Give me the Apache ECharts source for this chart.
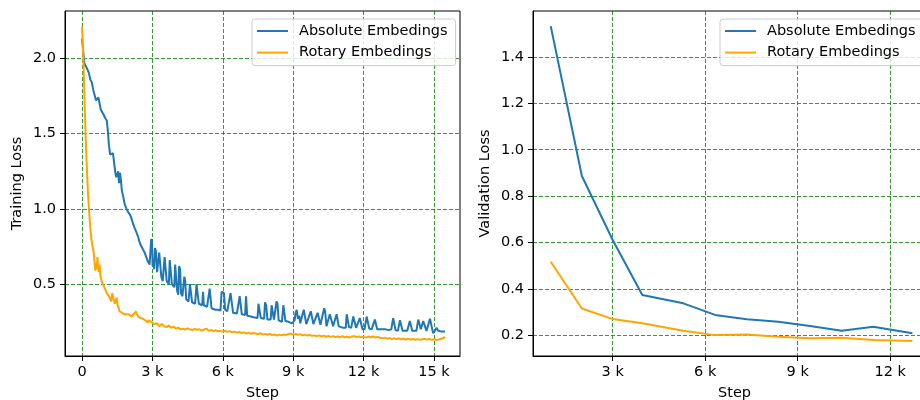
<!DOCTYPE html>
<html>
<head>
<meta charset="utf-8">
<script src="https://cdn.jsdelivr.net/npm/echarts@6/dist/echarts.min.js"></script>
<style>
  html, body { margin: 0; background: #fff; }
  #chart { width: 920px; height: 400px; }
</style>
</head>
<body>
<div id="chart"></div>
<script>
// 左：训练 loss（step, loss），右：验证 loss。数值按图读出。
const seriesNames = ['Absolute Embedings', 'Rotary Embedings'];

const trainStepTicks = [0, 3000, 6000, 9000, 12000, 15000];
const trainLossTicks = [0.5, 1.0, 1.5, 2.0];
const valStepTicks = [3000, 6000, 9000, 12000];
const valLossTicks = [0.2, 0.4, 0.6, 0.8, 1.0, 1.2, 1.4];

const absTrain = [
  [0, 2.13], [50, 2.05], [100, 1.97], [150, 1.95], [220, 1.93], [300, 1.90], [350, 1.86], [420, 1.84],
  [480, 1.79], [550, 1.78], [600, 1.72], [650, 1.73], [700, 1.74], [750, 1.70], [800, 1.66], [870, 1.64],
  [940, 1.62], [1000, 1.60], [1060, 1.585], [1100, 1.52], [1150, 1.42], [1200, 1.36], [1260, 1.35],
  [1320, 1.37], [1380, 1.38], [1420, 1.24], [1460, 1.21], [1500, 1.20], [1540, 1.25], [1580, 1.17],
  [1620, 1.24], [1660, 1.19], [1700, 1.12], [1760, 1.08], [1820, 1.03], [1900, 1.00], [1960, 0.98],
  [2050, 0.96], [2100, 0.94], [2180, 0.90], [2250, 0.87], [2330, 0.84], [2400, 0.81], [2470, 0.77],
  [2530, 0.76], [2600, 0.73], [2670, 0.71], [2740, 0.68], [2810, 0.65], [2880, 0.63], [2920, 0.62],
  [2950, 0.80], [2980, 0.78], [3010, 0.62], [3040, 0.66], [3070, 0.60], [3110, 0.74], [3150, 0.72],
  [3200, 0.58], [3250, 0.57], [3290, 0.71], [3330, 0.70], [3380, 0.55], [3440, 0.52], [3480, 0.51],
  [3520, 0.68], [3570, 0.67], [3610, 0.52], [3660, 0.51], [3700, 0.50], [3740, 0.66], [3790, 0.66],
  [3830, 0.50], [3880, 0.49], [3930, 0.48], [3970, 0.63], [4010, 0.62], [4050, 0.46], [4100, 0.43],
  [4140, 0.62], [4180, 0.60], [4220, 0.44], [4280, 0.42], [4320, 0.41], [4360, 0.55], [4400, 0.52],
  [4440, 0.40], [4500, 0.39], [4540, 0.385], [4600, 0.50], [4650, 0.49], [4690, 0.38], [4760, 0.375],
  [4820, 0.37], [4880, 0.50], [4940, 0.49], [4980, 0.37], [5050, 0.36], [5120, 0.36], [5160, 0.45],
  [5190, 0.36], [5250, 0.35], [5330, 0.35], [5400, 0.345], [5440, 0.47], [5480, 0.46], [5520, 0.34],
  [5600, 0.335], [5680, 0.33], [5740, 0.33], [5800, 0.33], [5900, 0.325], [5950, 0.45], [6000, 0.46],
  [6050, 0.44], [6100, 0.33], [6190, 0.32], [6250, 0.32], [6330, 0.44], [6380, 0.43], [6440, 0.31],
  [6520, 0.31], [6600, 0.305], [6680, 0.30], [6720, 0.42], [6760, 0.41], [6810, 0.30], [6880, 0.295],
  [6950, 0.295], [6990, 0.42], [7040, 0.29], [7100, 0.285], [7200, 0.285], [7300, 0.28], [7380, 0.275],
  [7480, 0.275], [7520, 0.37], [7560, 0.36], [7620, 0.275], [7680, 0.27], [7760, 0.27], [7800, 0.38],
  [7850, 0.36], [7900, 0.265], [7960, 0.265], [8040, 0.265], [8080, 0.36], [8120, 0.35], [8180, 0.265],
  [8240, 0.26], [8290, 0.385], [8330, 0.37], [8380, 0.26], [8440, 0.25], [8520, 0.25], [8580, 0.36],
  [8620, 0.35], [8670, 0.255], [8730, 0.26], [8800, 0.25], [8870, 0.245], [8940, 0.24], [9010, 0.23],
  [9060, 0.26], [9100, 0.31], [9150, 0.33], [9200, 0.27], [9260, 0.29], [9300, 0.24], [9360, 0.24],
  [9450, 0.33], [9500, 0.32], [9560, 0.235], [9645, 0.23], [9750, 0.32], [9800, 0.31], [9860, 0.235],
  [9940, 0.23], [10040, 0.31], [10100, 0.30], [10160, 0.23], [10240, 0.225], [10320, 0.34], [10360, 0.32],
  [10420, 0.22], [10500, 0.22], [10560, 0.30], [10620, 0.29], [10700, 0.22], [10780, 0.22], [10850, 0.30],
  [10890, 0.29], [10940, 0.22], [11040, 0.215], [11140, 0.21], [11240, 0.21], [11280, 0.30], [11320, 0.29],
  [11380, 0.215], [11470, 0.21], [11560, 0.285], [11610, 0.28], [11680, 0.21], [11760, 0.205], [11840, 0.275],
  [11890, 0.27], [11950, 0.20], [12040, 0.20], [12130, 0.285], [12180, 0.28], [12240, 0.205], [12340, 0.20],
  [12420, 0.20], [12480, 0.265], [12520, 0.26], [12580, 0.20], [12700, 0.20], [12820, 0.20], [12940, 0.20],
  [13060, 0.195], [13180, 0.20], [13260, 0.275], [13300, 0.27], [13360, 0.195], [13460, 0.19], [13550, 0.26],
  [13600, 0.25], [13660, 0.19], [13760, 0.19], [13860, 0.19], [13970, 0.255], [14010, 0.25], [14070, 0.19],
  [14160, 0.19], [14250, 0.19], [14330, 0.265], [14380, 0.26], [14440, 0.20], [14540, 0.255], [14600, 0.25],
  [14680, 0.19], [14760, 0.19], [14830, 0.27], [14880, 0.26], [14960, 0.175], [15040, 0.19], [15110, 0.21],
  [15180, 0.19], [15260, 0.195], [15330, 0.185], [15400, 0.19], [15470, 0.185]
];

const rotTrain = [
  [0, 2.21], [40, 2.08], [80, 1.88], [120, 1.66], [160, 1.46], [200, 1.30], [250, 1.12], [300, 0.99],
  [350, 0.88], [400, 0.80], [450, 0.75], [500, 0.71], [540, 0.63], [570, 0.59], [600, 0.64], [630, 0.60],
  [660, 0.68], [690, 0.60], [720, 0.58], [750, 0.63], [780, 0.56], [820, 0.53], [860, 0.51], [900, 0.50],
  [950, 0.48], [1000, 0.465], [1050, 0.44], [1100, 0.43], [1150, 0.42], [1200, 0.40], [1250, 0.385],
  [1290, 0.44], [1320, 0.43], [1360, 0.45], [1400, 0.37], [1440, 0.39], [1480, 0.41], [1520, 0.36],
  [1560, 0.34], [1600, 0.32], [1650, 0.315], [1700, 0.31], [1750, 0.305], [1800, 0.30], [1850, 0.31],
  [1900, 0.30], [1950, 0.295], [2000, 0.30], [2050, 0.29], [2100, 0.285], [2150, 0.29], [2200, 0.30],
  [2250, 0.31], [2300, 0.32], [2350, 0.30], [2400, 0.285], [2450, 0.29], [2500, 0.275], [2550, 0.28],
  [2600, 0.27], [2650, 0.265], [2700, 0.26], [2750, 0.255], [2800, 0.245], [2850, 0.26], [2900, 0.255],
  [2950, 0.25], [3000, 0.25], [3100, 0.235], [3200, 0.24], [3300, 0.22], [3400, 0.235], [3500, 0.22],
  [3600, 0.215], [3700, 0.225], [3800, 0.21], [3900, 0.218], [4000, 0.205], [4100, 0.212], [4200, 0.20],
  [4300, 0.205], [4400, 0.198], [4500, 0.207], [4600, 0.20], [4700, 0.195], [4800, 0.203], [4900, 0.197],
  [5000, 0.20], [5100, 0.192], [5200, 0.199], [5300, 0.205], [5400, 0.19], [5500, 0.196], [5600, 0.188],
  [5700, 0.194], [5800, 0.186], [5900, 0.19], [6000, 0.185], [6100, 0.19], [6200, 0.183], [6300, 0.188],
  [6400, 0.18], [6500, 0.185], [6600, 0.178], [6700, 0.182], [6800, 0.176], [6900, 0.18], [7000, 0.172],
  [7100, 0.178], [7200, 0.17], [7300, 0.176], [7400, 0.172], [7500, 0.168], [7600, 0.174], [7700, 0.166],
  [7800, 0.17], [7900, 0.164], [8000, 0.17], [8100, 0.162], [8200, 0.166], [8300, 0.158], [8400, 0.165],
  [8500, 0.16], [8600, 0.166], [8700, 0.163], [8800, 0.169], [8900, 0.172], [9000, 0.165], [9100, 0.17],
  [9200, 0.163], [9300, 0.168], [9400, 0.16], [9500, 0.165], [9600, 0.158], [9700, 0.163], [9800, 0.157],
  [9900, 0.16], [10000, 0.155], [10100, 0.16], [10200, 0.153], [10300, 0.158], [10400, 0.151],
  [10500, 0.156], [10600, 0.15], [10700, 0.155], [10800, 0.149], [10900, 0.153], [11000, 0.148],
  [11100, 0.154], [11200, 0.147], [11300, 0.151], [11400, 0.146], [11500, 0.152], [11600, 0.155],
  [11700, 0.149], [11800, 0.153], [11900, 0.147], [12000, 0.15], [12100, 0.145], [12200, 0.152],
  [12300, 0.148], [12400, 0.153], [12500, 0.146], [12600, 0.15], [12700, 0.144], [12800, 0.14],
  [12900, 0.145], [13000, 0.138], [13100, 0.142], [13200, 0.136], [13300, 0.14], [13400, 0.135],
  [13500, 0.139], [13600, 0.134], [13700, 0.138], [13800, 0.133], [13900, 0.137], [14000, 0.132],
  [14100, 0.136], [14200, 0.131], [14300, 0.135], [14400, 0.13], [14500, 0.134], [14600, 0.137],
  [14700, 0.132], [14800, 0.136], [14900, 0.13], [15000, 0.134], [15100, 0.129], [15200, 0.133],
  [15300, 0.138], [15400, 0.142], [15470, 0.15]
];

const valSteps = [990, 2000, 3000, 3960, 5290, 6320, 7350, 8370, 9400, 10430, 11450, 12720];
const absVal = [1.533, 0.887, 0.611, 0.374, 0.338, 0.288, 0.269, 0.259, 0.240, 0.220, 0.237, 0.209];
const rotVal = [0.517, 0.316, 0.270, 0.252, 0.220, 0.201, 0.204, 0.194, 0.187, 0.190, 0.180, 0.176];

const FONT = 'DejaVu Sans';
const BLUE = '#1f77b4';
const ORANGE = '#ffa500';
const text = { fontFamily: FONT, fontSize: 14.5, color: '#000' };
const gridLine = { show: true, lineStyle: { color: '#008000', width: 0.8, type: [4, 2] } };

function stepLabel(v) {
  return v === 0 ? '0' : v / 1000 + ' k';
}

function xAxis(gridIndex, min, max, ticks) {
  return {
    type: 'value', gridIndex, min, max,
    name: 'Step', nameLocation: 'middle', nameGap: 30, nameTextStyle: text,
    axisLine: { show: true, onZero: false, lineStyle: { color: '#000', width: 1 } },
    axisTick: { show: true, length: 5, lineStyle: { color: '#000', width: 1 }, customValues: ticks },
    axisLabel: { ...text, margin: 9, customValues: ticks, formatter: stepLabel },
    splitLine: gridLine,
  };
}

function yAxis(gridIndex, min, max, ticks, name) {
  return {
    type: 'value', gridIndex, min, max,
    name, nameLocation: 'middle', nameGap: 40, nameTextStyle: text,
    axisLine: { show: true, onZero: false, lineStyle: { color: '#000', width: 1 } },
    axisTick: { show: true, length: 5, lineStyle: { color: '#000', width: 1 }, customValues: ticks },
    axisLabel: { ...text, margin: 9, customValues: ticks, formatter: (v) => v.toFixed(1) },
    splitLine: gridLine,
  };
}

function line(name, color, data, axis) {
  return {
    name, type: 'line', data, xAxisIndex: axis, yAxisIndex: axis,
    showSymbol: false, symbol: 'none', color,
    lineStyle: { color, width: 2 },
  };
}

function legend(left) {
  return {
    left, top: 19, orient: 'vertical', data: seriesNames, selectedMode: false,
    icon: 'rect', itemWidth: 31, itemHeight: 2, itemGap: 5.6,
    padding: [4, 8, 5, 5],
    backgroundColor: 'rgba(255,255,255,0.8)', borderColor: '#cccccc', borderWidth: 1, borderRadius: 3,
    textStyle: { ...text, lineHeight: 16, padding: [0, 0, 0, 6] },
  };
}

const valAbs = valSteps.map((s, i) => [s, absVal[i]]);
const valRot = valSteps.map((s, i) => [s, rotVal[i]]);

// v6 的 grid 默认会为了容纳轴名/标签自动缩小，这里要固定像素位置
const gridBase = { top: 11, height: 345, show: true, borderColor: '#000', borderWidth: 1,
  backgroundColor: 'transparent', containLabel: false, outerBoundsMode: 'none' };

const chart = echarts.init(document.getElementById('chart'), null, { renderer: 'canvas' });
chart.setOption({
  animation: false,
  backgroundColor: '#fff',
  grid: [
    { ...gridBase, left: 65, width: 395 },
    { ...gridBase, left: 533, width: 403 },
  ],
  xAxis: [
    xAxis(0, -724, 16108, trainStepTicks),
    xAxis(1, 415, 13485, valStepTicks),
  ],
  yAxis: [
    yAxis(0, 0.023, 2.314, trainLossTicks, 'Training Loss'),
    yAxis(1, 0.111, 1.598, valLossTicks, 'Validation Loss'),
  ],
  legend: [legend(252), legend(720)],
  series: [
    line(seriesNames[0], BLUE, absTrain, 0),
    line(seriesNames[1], ORANGE, rotTrain, 0),
    line(seriesNames[0], BLUE, valAbs, 1),
    line(seriesNames[1], ORANGE, valRot, 1),
  ],
});
</script>
</body>
</html>
